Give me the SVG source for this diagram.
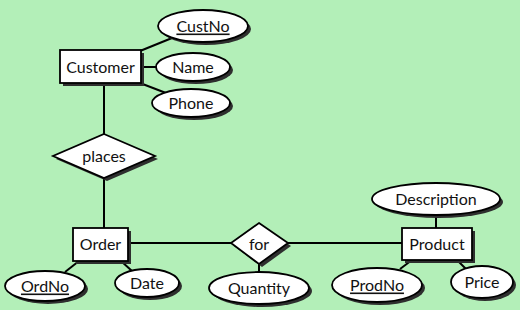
<svg xmlns="http://www.w3.org/2000/svg" width="523" height="314" viewBox="0 0 523 314">
<defs>
<style>
.bg{fill:#b3efb8}
.sh{fill:#2e2e2e}
.shape{fill:#fff;stroke:#000;stroke-width:1.8}
.ln{stroke:#000;stroke-width:2;fill:none}
text{font-family:Lato,"Open Sans","DejaVu Sans",sans-serif;font-size:16px;fill:#111;text-anchor:middle;dominant-baseline:central}
.u{text-decoration:underline}
</style>
</defs>
<rect x="0" y="0" width="523" height="314" fill="#fff"/>
<rect class="bg" x="0" y="0" width="520" height="310"/>
<g id="connectors">
<line class="ln" x1="140" y1="51" x2="172" y2="38"/>
<line class="ln" x1="141" y1="67" x2="158" y2="67"/>
<line class="ln" x1="140" y1="83" x2="166" y2="93"/>
<line class="ln" x1="104" y1="83" x2="104" y2="134"/>
<line class="ln" x1="104" y1="178" x2="104" y2="228"/>
<line class="ln" x1="79" y1="261" x2="65" y2="272"/>
<line class="ln" x1="121" y1="261" x2="132" y2="271"/>
<line class="ln" x1="128" y1="243" x2="231" y2="243"/>
<line class="ln" x1="259" y1="264" x2="259" y2="273"/>
<line class="ln" x1="288" y1="243" x2="402" y2="243"/>
<line class="ln" x1="436" y1="215" x2="436" y2="228"/>
<line class="ln" x1="412" y1="260" x2="400" y2="269"/>
<line class="ln" x1="457" y1="260" x2="467" y2="270"/>
</g>
<g id="customer">
<rect class="sh" x="63" y="53" width="81" height="33"/>
<rect class="shape" x="60" y="50" width="81" height="33"/>
<text x="100.5" y="66.5">Customer</text>
</g>
<g id="custno">
<ellipse class="sh" cx="206" cy="29" rx="45" ry="16"/>
<ellipse class="shape" cx="203" cy="26" rx="45" ry="16"/>
<text class="u" x="203" y="25">CustNo</text>
</g>
<g id="name">
<ellipse class="sh" cx="196" cy="70" rx="37" ry="14"/>
<ellipse class="shape" cx="193" cy="67" rx="37" ry="14"/>
<text x="193" y="66">Name</text>
</g>
<g id="phone">
<ellipse class="sh" cx="194" cy="106" rx="39" ry="14"/>
<ellipse class="shape" cx="191" cy="103" rx="39" ry="14"/>
<text x="191" y="102">Phone</text>
</g>
<g id="places">
<polygon class="sh" points="107,137 158,159 107,181 56,159"/>
<polygon class="shape" points="104,134 155,156 104,178 53,156"/>
<text x="104" y="155">places</text>
</g>
<g id="order">
<rect class="sh" x="76" y="231" width="55" height="33"/>
<rect class="shape" x="73" y="228" width="55" height="33"/>
<text x="100.5" y="243.5">Order</text>
</g>
<g id="ordno">
<ellipse class="sh" cx="48" cy="289" rx="40" ry="15"/>
<ellipse class="shape" cx="45" cy="286" rx="40" ry="15"/>
<text class="u" x="45" y="285">OrdNo</text>
</g>
<g id="date">
<ellipse class="sh" cx="150" cy="286" rx="32" ry="14"/>
<ellipse class="shape" cx="147" cy="283" rx="32" ry="14"/>
<text x="147" y="282">Date</text>
</g>
<g id="for">
<polygon class="sh" points="262,226 291,246 262,267 234,246"/>
<polygon class="shape" points="259,223 288,243 259,264 231,243"/>
<text x="259" y="243">for</text>
</g>
<g id="quantity">
<ellipse class="sh" cx="262" cy="291" rx="50" ry="16"/>
<ellipse class="shape" cx="259" cy="288" rx="50" ry="16"/>
<text x="259" y="287">Quantity</text>
</g>
<g id="product">
<rect class="sh" x="405" y="231" width="70" height="32"/>
<rect class="shape" x="402" y="228" width="70" height="32"/>
<text x="437" y="243.5">Product</text>
</g>
<g id="description">
<ellipse class="sh" cx="439" cy="202" rx="64" ry="16"/>
<ellipse class="shape" cx="436" cy="199" rx="64" ry="16"/>
<text x="436" y="198">Description</text>
</g>
<g id="prodno">
<ellipse class="sh" cx="380" cy="288" rx="45" ry="17"/>
<ellipse class="shape" cx="377" cy="285" rx="45" ry="17"/>
<text class="u" x="377" y="284">ProdNo</text>
</g>
<g id="price">
<ellipse class="sh" cx="485" cy="285" rx="31" ry="16"/>
<ellipse class="shape" cx="482" cy="282" rx="31" ry="16"/>
<text x="482" y="281">Price</text>
</g>
</svg>
